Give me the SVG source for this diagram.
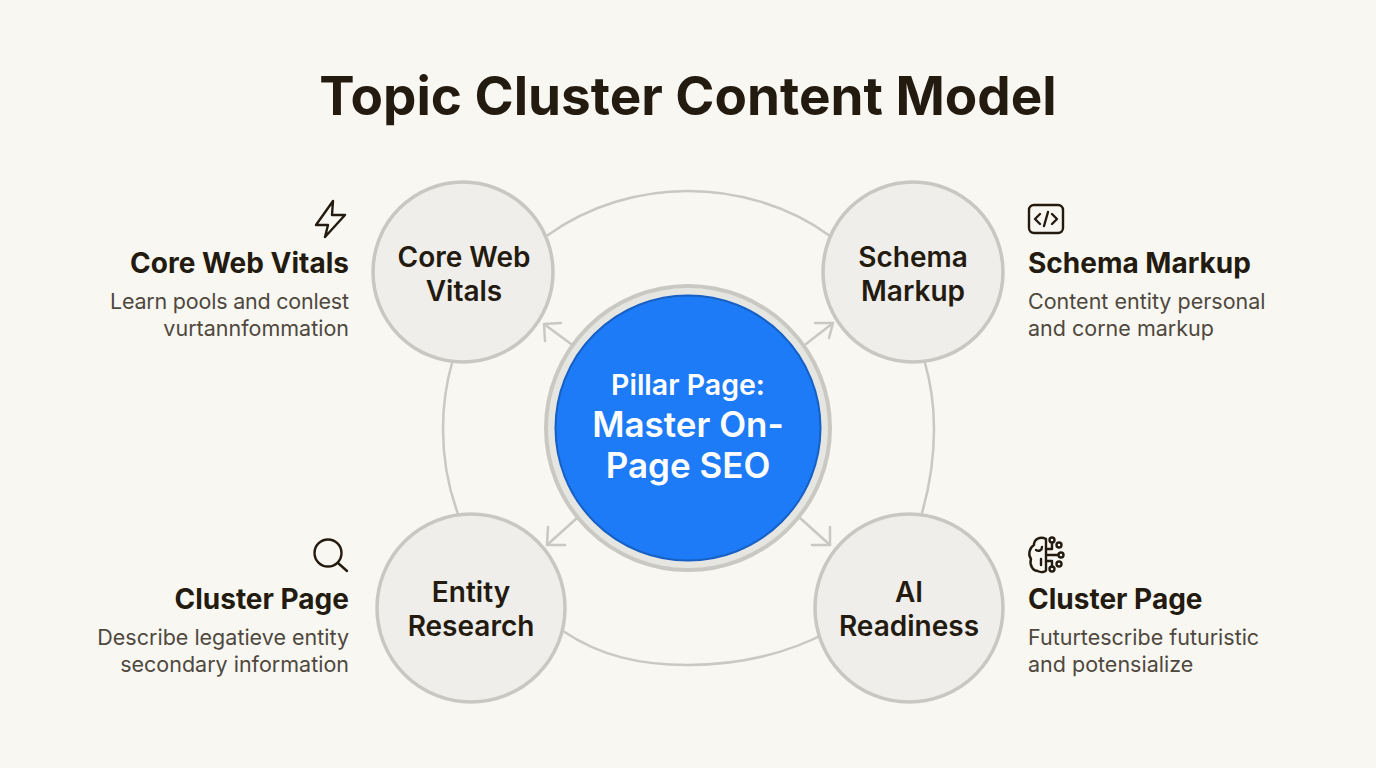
<svg xmlns="http://www.w3.org/2000/svg" width="1376" height="768" viewBox="0 0 1376 768">
<style>
text{font-family:Inter,"Liberation Sans",sans-serif}
.title{font-size:53px;font-weight:700;fill:#241b10;text-anchor:middle}
.nl{font-size:28px;font-weight:600;fill:#241b10;text-anchor:middle}
.h{font-size:28px;font-weight:700;fill:#241b10}
.d{font-size:21.5px;font-weight:400;fill:#4f483e}
.r{text-anchor:end}
.node{fill:#efeeeb;stroke:#c8c7c2;stroke-width:3.5}
.con{fill:none;stroke:#c9c8c2;stroke-width:2.5;stroke-linecap:round;stroke-linejoin:round}
.ic{fill:none;stroke:#241b10;stroke-width:2.4;stroke-linecap:round;stroke-linejoin:round}
.ct{fill:#fff;text-anchor:middle;font-weight:600}
</style>
<rect width="1376" height="768" fill="#f8f7f2"/>
<text class="title" x="688" y="115">Topic Cluster Content Model</text>
<g id="connectors">
<path class="con" d="M548 235C590 205 640 191 688 191C736 191 788 205 830 236"/>
<path class="con" d="M925 363C931 384 934 407 934 429C934 457 930 485 922 513"/>
<path class="con" d="M828 632C786 654 737 665 688 665C640 665 600 656 563 631"/>
<path class="con" d="M458 514C448 487 443 458 443 429C443 407 446 384 452 363"/>
<path class="con" d="M571 344L544 324M545 341L544 324L561 323"/>
<path class="con" d="M806 344L833 323M815 323L833 323L829 338"/>
<path class="con" d="M577 518L547 545M548 527L547 545L565 545"/>
<path class="con" d="M800 518L830 545M830 527L830 545L812 545"/>
</g>
<g id="node-core-web-vitals">
<circle class="node" cx="463" cy="272" r="90"/>
<text class="nl" x="464" y="267">Core Web</text>
<text class="nl" x="464" y="301">Vitals</text>
</g>
<g id="node-schema-markup">
<circle class="node" cx="913" cy="272" r="90"/>
<text class="nl" x="913" y="267">Schema</text>
<text class="nl" x="913" y="301">Markup</text>
</g>
<g id="node-entity-research">
<circle class="node" cx="471" cy="608" r="94"/>
<text class="nl" x="471" y="602">Entity</text>
<text class="nl" x="471" y="636">Research</text>
</g>
<g id="node-ai-readiness">
<circle class="node" cx="909" cy="608" r="94"/>
<text class="nl" x="909" y="602">AI</text>
<text class="nl" x="909" y="636">Readiness</text>
</g>
<g id="node-pillar">
<circle cx="688" cy="428" r="142" fill="#e5e5e2" stroke="#c9c8c3" stroke-width="4"/>
<circle cx="688" cy="428" r="132.5" fill="#1e7bf8" stroke="#1660c4" stroke-width="2"/>
<text class="ct" x="688" y="395" font-size="28.5">Pillar Page:</text>
<text class="ct" x="688" y="437" font-size="35">Master On-</text>
<text class="ct" x="688" y="478" font-size="35">Page SEO</text>
</g>
<g id="label-core-web-vitals">
<path class="ic" d="M333 201L316 225H328L325 237L345 215H332Z"/>
<text class="h r" x="349" y="273">Core Web Vitals</text>
<text class="d r" x="349" y="309" textLength="239">Learn pools and conlest</text>
<text class="d r" x="349" y="336">vurtannfommation</text>
</g>
<g id="label-schema-markup">
<rect class="ic" x="1029" y="205" width="34" height="28" rx="5"/>
<path class="ic" d="M1040 214L1035 219L1040 224M1052 214L1057 219L1052 224M1048 212L1044 226" stroke-width="2"/>
<text class="h" x="1028" y="273">Schema Markup</text>
<text class="d" x="1028" y="309">Content entity personal</text>
<text class="d" x="1028" y="336">and corne markup</text>
</g>
<g id="label-cluster-left">
<circle class="ic" cx="328" cy="553" r="13.5"/>
<path class="ic" d="M338 563L347 571"/>
<text class="h r" x="349" y="609">Cluster Page</text>
<text class="d r" x="349" y="645">Describe legatieve entity</text>
<text class="d r" x="349" y="672">secondary information</text>
</g>
<g id="label-cluster-right">
<path class="ic" stroke-width="2" d="M1046 539C1040 536 1034 539 1034 545C1029 548 1028 555 1031 559C1029 565 1033 571 1038 571C1040 573 1046 572 1046 570ZM1046 539V570M1036 550C1039 552 1042 550 1042 547M1041 559V565"/>
<path class="ic" stroke-width="2" d="M1052 543V549H1046M1052 555H1058M1046 555H1052M1052 567V561H1046"/>
<circle class="ic" stroke-width="2" cx="1052" cy="540" r="2.5"/>
<circle class="ic" stroke-width="2" cx="1059" cy="545" r="2.5"/>
<circle class="ic" stroke-width="2" cx="1061" cy="555" r="2.5"/>
<circle class="ic" stroke-width="2" cx="1059" cy="564" r="2.5"/>
<circle class="ic" stroke-width="2" cx="1052" cy="569" r="2.5"/>
<text class="h" x="1028" y="609">Cluster Page</text>
<text class="d" x="1028" y="645">Futurtescribe futuristic</text>
<text class="d" x="1028" y="672">and potensialize</text>
</g>
</svg>
